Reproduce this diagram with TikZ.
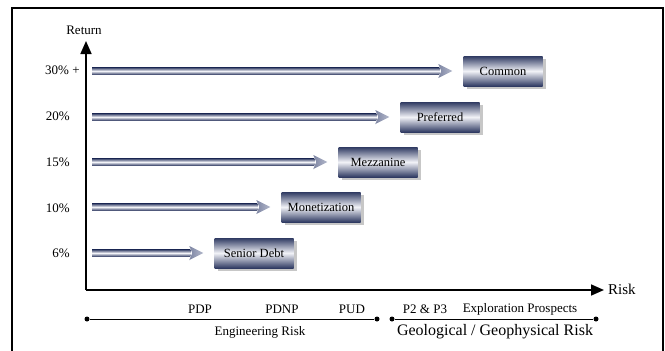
\documentclass[tikz,border=0pt]{standalone}
\usepackage{fontspec}
\setmainfont{Liberation Serif}
\usetikzlibrary{calc,arrows.meta,shadows}
\definecolor{navy}{HTML}{2F3A62}
\definecolor{lite}{HTML}{F2F3F8}
\definecolor{headc}{HTML}{B4B9CC}
\definecolor{headd}{HTML}{7E86A3}
\tikzset{
  boxnode/.style={minimum width=79pt, minimum height=30pt, inner sep=0pt,
    font=\fontsize{12.5}{14}\selectfont, top color=navy, bottom color=navy, middle color=lite,
    general shadow={fill=black!22, shadow xshift=3pt, shadow yshift=-3pt}},
  axisline/.style={line width=1.6pt, -{Triangle[length=13pt,width=11pt]}},
  lbl/.style={font=\fontsize{13}{15}\selectfont, inner sep=0pt},
  dotnode/.style={circle, fill=black, inner sep=0pt, minimum size=5pt},
  baseline/.style={line width=0.9pt},
  barshade/.style={top color=navy, bottom color=navy, middle color=lite},
  headshade/.style={left color=headd, right color=headc, draw=none}
}
\newcommand{\riskbar}[2]{%
  \shade[barshade] ($(#1)+(0,-3.6)$) rectangle ($(#2.west)+(-24,3.6)$);
  \shade[headshade] ($(#2.west)+(-25,-7)$) -- ($(#2.west)+(-11,0)$) -- ($(#2.west)+(-25,7)$) -- ($(#2.west)+(-22,0)$) -- cycle;
}
\begin{document}
\begin{tikzpicture}[x=1pt,y=-1pt]
\useasboundingbox (0,0) rectangle (665,351);
% frame
\draw[line width=2.6pt] (12,353) -- (12,8) -- (663,8) -- (663,353);
% axes
\coordinate (o) at (86,290);
\coordinate (ytop) at (86,41);
\coordinate (xend) at (604,290);
\draw[axisline] (o) -- (ytop);
\draw[axisline] (o) -- (xend);
\node[lbl] (ret) at (84,30) {Return};
\node[font=\fontsize{15}{17}\selectfont, inner sep=0pt, anchor=west] (risk) at (608,289) {Risk};
% return labels
\node[lbl, anchor=west] (r30) at (45,70) {30\% +};
\node[lbl, anchor=east] (r20) at (70,116) {20\%};
\node[lbl, anchor=east] (r15) at (70,162) {15\%};
\node[lbl, anchor=east] (r10) at (70,208) {10\%};
\node[lbl, anchor=east] (r6) at (70,253) {6\%};
% boxes
\node[boxnode] (common) at (503,71) {Common};
\node[boxnode] (pref) at (440,117) {Preferred};
\node[boxnode] (mezz) at (378,162) {Mezzanine};
\node[boxnode] (mon) at (321,207) {Monetization};
\node[boxnode] (senior) at (254,253) {Senior Debt};
% bar starts
\coordinate (s1) at (92,71);
\coordinate (s2) at (92,117);
\coordinate (s3) at (92,162);
\coordinate (s4) at (92,207);
\coordinate (s5) at (92,253);
\riskbar{s1}{common}
\riskbar{s2}{pref}
\riskbar{s3}{mezz}
\riskbar{s4}{mon}
\riskbar{s5}{senior}
% bottom scale
\node[dotnode] (d1) at (87,319) {};
\node[dotnode] (d2) at (377,319) {};
\node[dotnode] (d3) at (392,319) {};
\node[dotnode] (d4) at (596,319) {};
\draw[baseline] (d1) -- (d2);
\draw[baseline] (d3) -- (d4);
\node[lbl] (pdp) at (200,309) {PDP};
\node[lbl] (pdnp) at (282,309) {PDNP};
\node[lbl] (pud) at (352,309) {PUD};
\node[lbl] (eng) at (260,332) {Engineering Risk};
\node[lbl] (p23) at (425,309) {P2 \& P3};
\node[lbl] (expl) at (520,309) {Exploration Prospects};
\node[font=\fontsize{16}{18}\selectfont, inner sep=0pt] (geo) at (495,332) {Geological / Geophysical Risk};
\end{tikzpicture}
\end{document}
